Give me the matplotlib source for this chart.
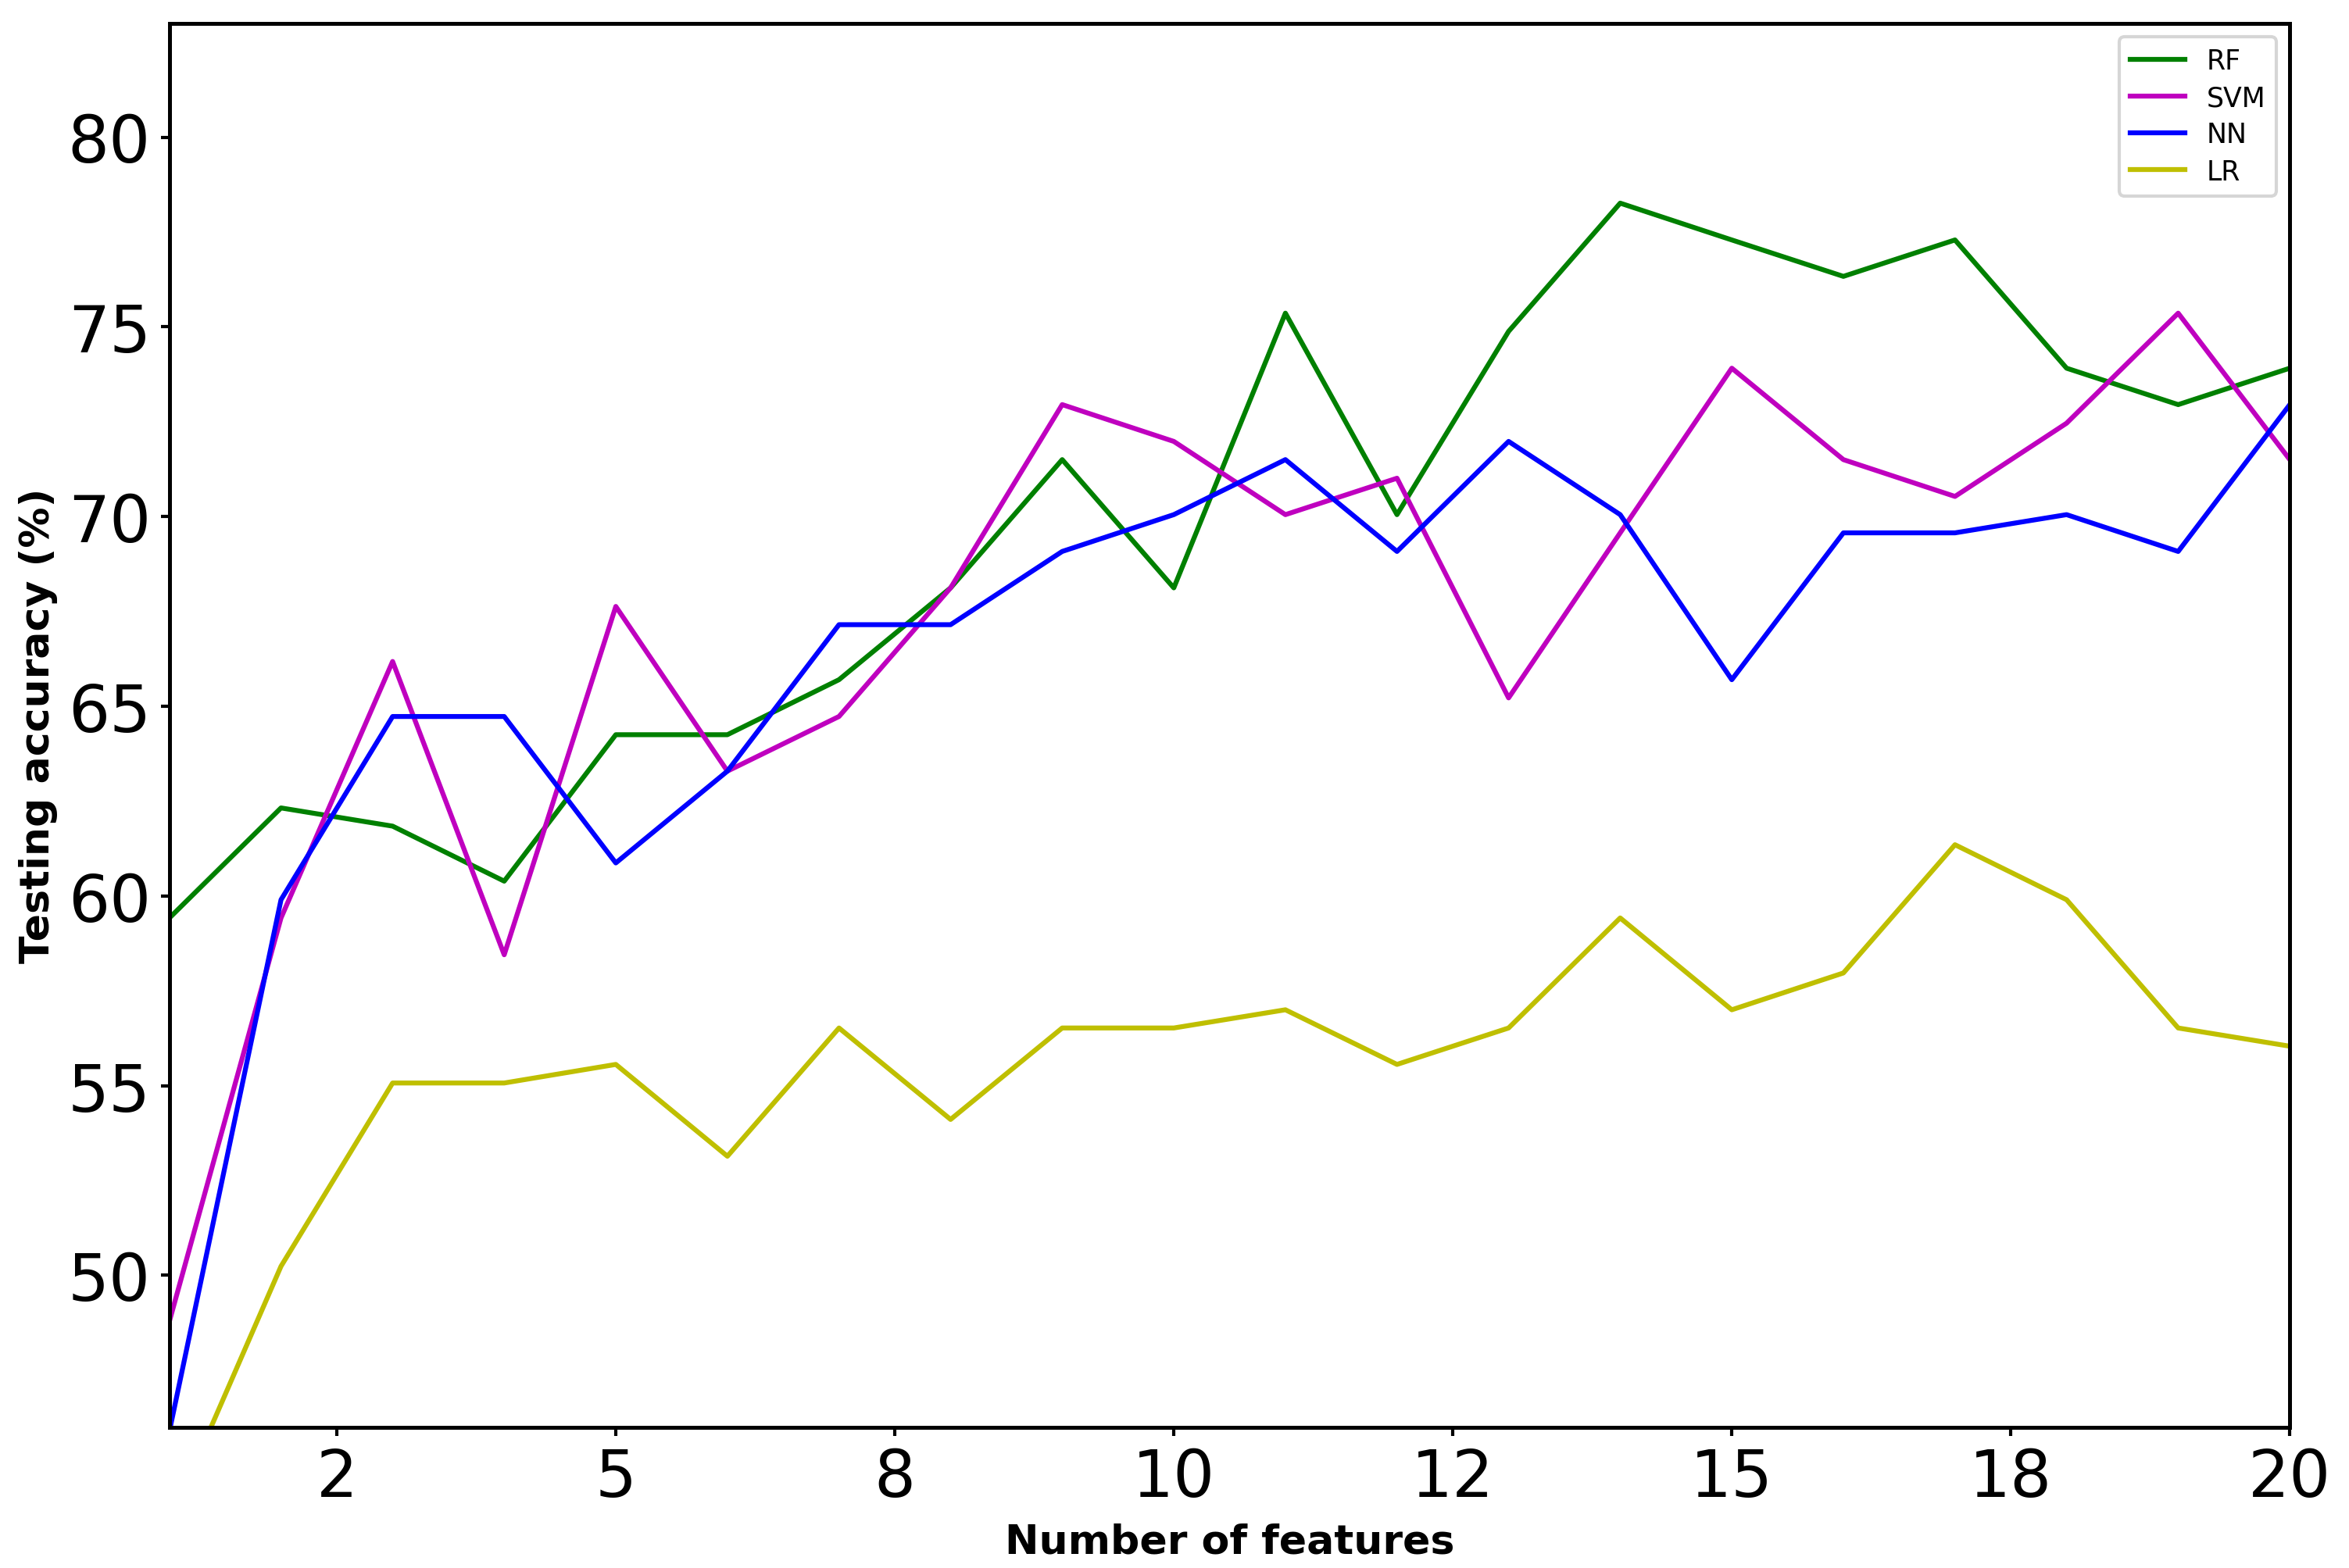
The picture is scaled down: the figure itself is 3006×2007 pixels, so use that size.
import numpy as np
import matplotlib
matplotlib.use("Agg")
import matplotlib.pyplot as plt

# number of features
n_features = np.arange(1, 21)

# testing accuracy (%) per model
rf = [59.42, 62.32, 61.84, 60.39, 64.25, 64.25, 65.70, 68.12, 71.50, 68.12,
      75.36, 70.05, 74.88, 78.26, 77.29, 76.33, 77.29, 73.91, 72.95, 73.91]
svm = [48.79, 59.42, 66.18, 58.45, 67.63, 63.29, 64.73, 68.12, 72.95, 71.98,
       70.05, 71.01, 65.22, 69.57, 73.91, 71.50, 70.53, 72.46, 75.36, 71.50]
nn = [45.89, 59.90, 64.73, 64.73, 60.87, 63.29, 67.15, 67.15, 69.08, 70.05,
      71.50, 69.08, 71.98, 70.05, 65.70, 69.57, 69.57, 70.05, 69.08, 72.95]
lr = [43.48, 50.24, 55.07, 55.07, 55.56, 53.14, 56.52, 54.11, 56.52, 56.52,
      57.00, 55.56, 56.52, 59.42, 57.00, 57.97, 61.35, 59.90, 56.52, 56.04]

fig, ax = plt.subplots(figsize=(10.023, 6.693), dpi=300)
fig.subplots_adjust(left=0.0721, right=0.9745, top=0.9847, bottom=0.0898)

ax.plot(n_features, rf, color='g', linewidth=1.5, label='RF')
ax.plot(n_features, svm, color='m', linewidth=1.5, label='SVM')
ax.plot(n_features, nn, color='b', linewidth=1.5, label='NN')
ax.plot(n_features, lr, color='y', linewidth=1.5, label='LR')

ax.set_xlim(1, 20)
ax.set_ylim(46, 83)
ax.set_xticks([2.5, 5, 7.5, 10, 12.5, 15, 17.5, 20])
ax.xaxis.set_major_formatter(matplotlib.ticker.FormatStrFormatter('%.0f'))
ax.set_yticks([50, 55, 60, 65, 70, 75, 80])
ax.tick_params(labelsize=20, length=2.75, width=1.0, pad=3)
for s in ax.spines.values():
    s.set_linewidth(1.2)

ax.set_xlabel('Number of features', fontsize=12.5, fontweight='bold', labelpad=4)
ax.set_ylabel('Testing accuracy (%)', fontsize=12.5, fontweight='bold', labelpad=3)
ax.legend(loc='upper right', fontsize='small', labelspacing=0.38)

fig.savefig('out.png', dpi=300)
